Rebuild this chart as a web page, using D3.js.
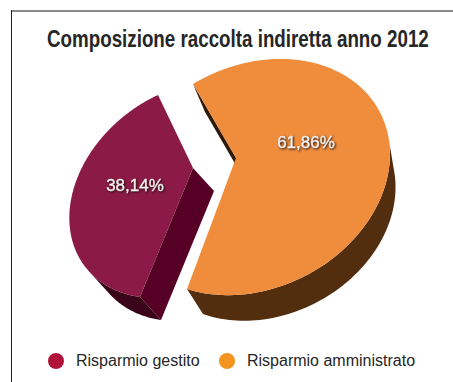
<!DOCTYPE html>
<html>
<head>
<meta charset="utf-8">
<script src="https://cdn.jsdelivr.net/npm/d3@7"></script>
<style>
html,body{margin:0;padding:0;background:#fff}
svg{display:block}
text{font-family:"Liberation Sans",Arial,sans-serif}
</style>
</head>
<body>
<svg id="chart" width="453" height="382"></svg>
<script>
// Composition of indirect deposits, 2012
const categories = ["Risparmio amministrato", "Risparmio gestito"];
const shares = [61.86, 38.14];
const chartTitle = "Composizione raccolta indiretta anno 2012";

const faceColours = ["#f08d3d", "#8b1a46"];
const sideColours = ["#2e1a08", "#560026"];
const rimColours = ["#522d0e", "#3a0419"];
const legendColours = ["#f39320", "#b0123a"];

// Tilted-disc projection per slice: hub, first rim corner, last rim corner, mid-arc rim point
const sliceFrames = [
  { hub: [236, 158], start: [193, 84], end: [187, 289], middle: [385, 124] },
  { hub: [193, 168], start: [140, 297], end: [158, 95], middle: [72, 195] }
];

// Extrusion vectors along each rim (first corner, mid-arc, last corner)
const rimDepth = [
  [[12, 28], [4, 29], [16, 25]],
  [[21, 23], [21, 23], [21, 23]]
];
// Extrusion of the straight cut that shows a wall
const cutDepth = [[12, 28], [21, 23]];
const labelAt = [[306, 142], [135, 185]];

function solve(A, b) {
  const n = b.length, M = A.map((r, i) => [...r, b[i]]);
  for (let c = 0; c < n; c++) {
    let p = c;
    for (let r = c + 1; r < n; r++) if (Math.abs(M[r][c]) > Math.abs(M[p][c])) p = r;
    [M[c], M[p]] = [M[p], M[c]];
    for (let r = 0; r < n; r++) {
      if (r === c) continue;
      const f = M[r][c] / M[c][c];
      for (let k = c; k <= n; k++) M[r][k] -= f * M[c][k];
    }
  }
  return M.map((r, i) => r[n] / r[i]);
}

function homography(src, dst) {
  const A = [], b = [];
  src.forEach(([x, y], i) => {
    const [X, Y] = dst[i];
    A.push([x, y, 1, 0, 0, 0, -x * X, -y * X]); b.push(X);
    A.push([0, 0, 0, x, y, 1, -x * Y, -y * Y]); b.push(Y);
  });
  const h = solve(A, b);
  return ([x, y]) => {
    const w = h[6] * x + h[7] * y + 1;
    return [(h[0] * x + h[1] * y + h[2]) / w, (h[3] * x + h[4] * y + h[5]) / w];
  };
}

const svg = d3.select("#chart");

// Frame rules along the top and left edges
svg.append("line").attr("x1", 11).attr("y1", 11).attr("x2", 453).attr("y2", 11)
  .attr("stroke", "#8a8a8a").attr("stroke-width", 2);
svg.append("line").attr("x1", 11.5).attr("y1", 10).attr("x2", 11.5).attr("y2", 382)
  .attr("stroke", "#222").attr("stroke-width", 1);

// Title, squeezed horizontally to a condensed cut
const title = svg.append("text").text(chartTitle)
  .style("font-family", "'Liberation Sans',sans-serif")
  .style("font-weight", 700).style("font-size", "23px").attr("fill", "#262626");
const titleScale = 382 / title.node().getComputedTextLength();
title.attr("transform", `translate(47,47) scale(${titleScale},1)`);

const arcs = d3.pie().sort(null).startAngle(-Math.PI / 6).endAngle(2 * Math.PI - Math.PI / 6)(shares);
const disc = a => [Math.sin(a), -Math.cos(a)];
const line = d3.line().curve(d3.curveLinear);

arcs.forEach((arc, i) => {
  const f = sliceFrames[i];
  const mid = (arc.startAngle + arc.endAngle) / 2;
  const project = homography(
    [[0, 0], disc(arc.startAngle), disc(arc.endAngle), disc(mid)],
    [f.hub, f.start, f.end, f.middle]
  );
  const fractions = d3.range(0, 161).map(k => k / 160);
  const rim = fractions.map(t => project(disc(arc.startAngle + (arc.endAngle - arc.startAngle) * t)));
  const depthAt = d3.scaleLinear().domain([0, 0.5, 1]).range(rimDepth[i]);
  const g = svg.append("g");

  // Outer wall: only the part of the rim whose outward side faces the extrusion
  const visible = rim.map((p, k) => {
    const q = rim[Math.min(k + 1, rim.length - 1)], o = rim[Math.max(k - 1, 0)];
    const d = depthAt(fractions[k]);
    return (q[1] - o[1]) * d[0] - (q[0] - o[0]) * d[1] > 0;
  });
  const top = rim.filter((_, k) => visible[k]);
  const bottom = rim.map((p, k) => {
    const d = depthAt(fractions[k]);
    return [p[0] + d[0], p[1] + d[1]];
  }).filter((_, k) => visible[k]).reverse();
  g.append("path").attr("d", line([...top, ...bottom]) + "Z").attr("fill", rimColours[i]);

  // Wall along the straight cut
  const corner = rim[0];
  const [dx, dy] = cutDepth[i];
  g.append("path")
    .attr("d", line([f.hub, corner, [corner[0] + dx, corner[1] + dy], [f.hub[0] + dx, f.hub[1] + dy]]) + "Z")
    .attr("fill", sideColours[i]);

  // Top face
  g.append("path").attr("d", line([f.hub, ...rim]) + "Z").attr("fill", faceColours[i]);

  svg.append("text")
    .text(String(shares[i]).replace(".", ",") + "%")
    .attr("x", labelAt[i][0]).attr("y", labelAt[i][1]).attr("text-anchor", "middle")
    .attr("dy", "0.35em")
    .style("font-size", "17px").attr("fill", "#f4f1ee")
    .attr("stroke", "#f4f1ee").attr("stroke-width", 0.35)
    .style("filter", "drop-shadow(1px 1px 0.8px rgba(30,10,10,.95))");
});

// Legend
const legendOrder = [1, 0];
const legendDot = [56, 227];
const legendText = [76, 247];
legendOrder.forEach((c, i) => {
  svg.append("circle").attr("cx", legendDot[i]).attr("cy", 361).attr("r", 8).attr("fill", legendColours[c]);
  svg.append("text").text(categories[c]).attr("x", legendText[i]).attr("y", 366)
    .style("font-size", "16px").attr("fill", "#262626");
});
</script>
</body>
</html>
